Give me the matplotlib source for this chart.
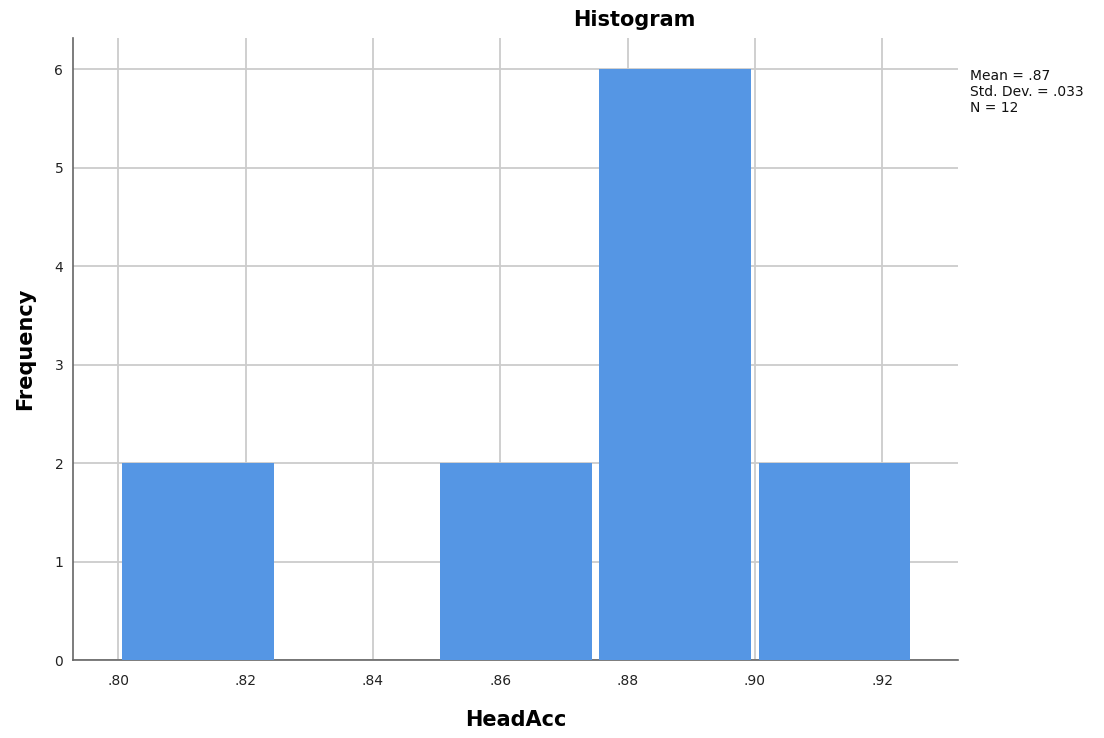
import numpy as np
import matplotlib
matplotlib.use("Agg")
import matplotlib.pyplot as plt

# Histogram of HeadAcc
bin_edges = [0.800, 0.825, 0.850, 0.875, 0.900, 0.925]
counts = [2, 0, 2, 6, 2]
x_ticks = [0.80, 0.82, 0.84, 0.86, 0.88, 0.90, 0.92]
x_tick_labels = [".80", ".82", ".84", ".86", ".88", ".90", ".92"]
y_ticks = [0, 1, 2, 3, 4, 5, 6]
mean_value = ".87"
std_dev_value = ".033"
n_value = 12

plt.rcParams["font.family"] = ["DejaVu Sans"]

fig = plt.figure(figsize=(11.04, 7.38), dpi=100)
ax = fig.add_axes([73 / 1104, 1 - 660 / 738, (958 - 73) / 1104, (660 - 38) / 738])

edges = np.array(bin_edges)
centers = (edges[:-1] + edges[1:]) / 2
widths = np.diff(edges) * 0.953

ax.bar(centers, counts, width=widths, color="#5596E4", edgecolor="none",
       zorder=3)

ax.set_xlim(0.7929, 0.9319)
ax.set_ylim(0, 6.32)
ax.set_xticks(x_ticks)
ax.set_xticklabels(x_tick_labels)
ax.set_yticks(y_ticks)
ax.tick_params(axis="x", length=0, labelsize=10, colors="#222222", pad=10)
ax.tick_params(axis="y", length=0, labelsize=10, colors="#222222", pad=7)

ax.grid(True, color="#cccccc", linewidth=1.3, zorder=0)
ax.set_axisbelow(True)

for side in ("top", "right"):
    ax.spines[side].set_visible(False)
for side in ("left", "bottom"):
    ax.spines[side].set_color("#666666")
    ax.spines[side].set_linewidth(1.2)

ax.set_xlabel("HeadAcc", fontsize=15, fontweight="bold", labelpad=16)
ax.set_ylabel("Frequency", fontsize=15, fontweight="bold", labelpad=14)

fig.text(634 / 1104, 1 - 20 / 738, "Histogram", fontsize=15,
         fontweight="bold", ha="center", va="center")

fig.text(970 / 1104, 1 - 69 / 738,
         f"Mean = {mean_value}\nStd. Dev. = {std_dev_value}\nN = {n_value}",
         fontsize=10, ha="left", va="top", linespacing=1.2, color="#111111")

fig.savefig("out.png", dpi=100)
